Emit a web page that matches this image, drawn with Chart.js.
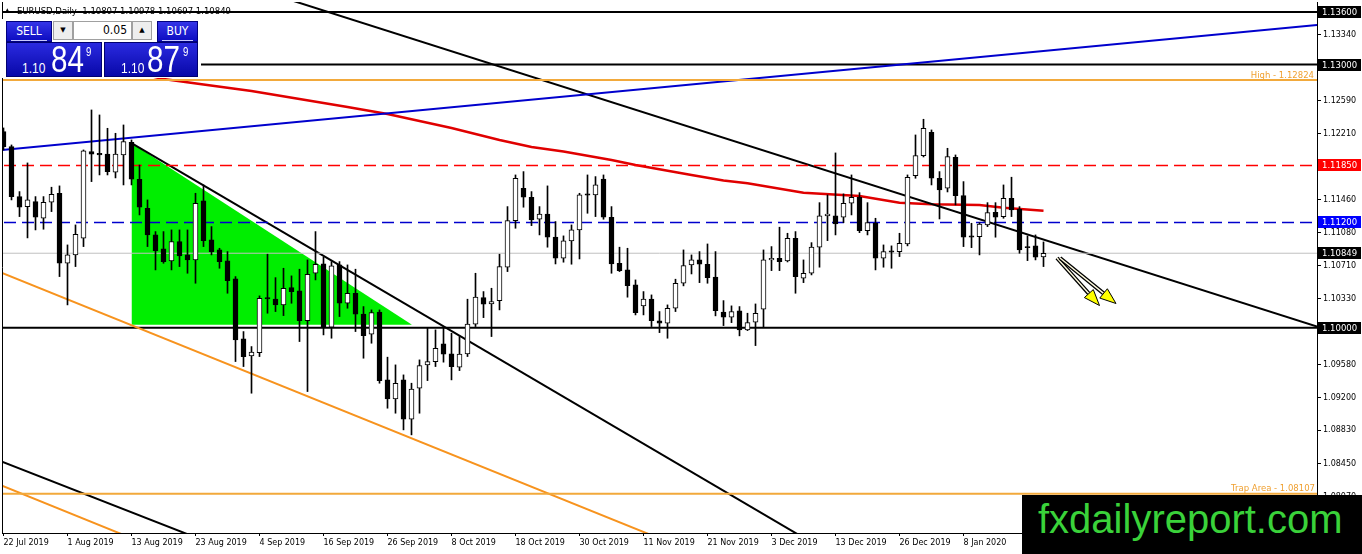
<!DOCTYPE html>
<html>
<head>
<meta charset="utf-8">
<title>EURUSD Daily</title>
<script src="https://cdn.jsdelivr.net/npm/chart.js@4.4.1/dist/chart.umd.min.js"></script>
<style>
html, body { margin: 0; padding: 0; background: #fff; }
#wrap { position: relative; width: 1362px; height: 554px; overflow: hidden; }
#chart { position: absolute; left: 0; top: 0; }
#trade { position: absolute; left: 0; top: 19px; width: 201px; height: 59px; background: #fff; }
#trade div { position: absolute; box-sizing: border-box; }
.btn { top: 2px; height: 21px; color: #fff; font: 12px "DejaVu Sans Condensed", "DejaVu Sans"; text-align: center; line-height: 19px;
       background: linear-gradient(#3434e8, #0c0cc0); border: 1px solid #000080; }
.btn:after { content: ""; position: absolute; left: 4px; right: 4px; bottom: 0; height: 1px; background: #c8c8ff; }
.spin { top: 2px; height: 19px; width: 20px; background: #eeeeee; border: 1px solid #a0a0a0; font: 7px "DejaVu Sans"; text-align: center; line-height: 17px; color: #000; }
.lot { top: 2px; height: 19px; background: #fff; border: 1px solid #a0a0a0; font: 12px "DejaVu Sans Condensed", "DejaVu Sans"; text-align: right; padding-right: 4px; line-height: 17px; }
.quote { top: 23px; height: 35px; background: linear-gradient(#2a2ae0, #0808a8); border: 1px solid #000070; color: #fff; font-family: "Liberation Sans", Arial, sans-serif; }
.quote span { position: absolute; line-height: 1; transform-origin: 0 0; transform: scaleX(0.8); white-space: nowrap; }
#brand { position: absolute; left: 1022px; top: 495px; width: 340px; height: 59px; background: #000; }
#brand span { position: absolute; left: 16px; top: 4px; font: 40px "Liberation Sans", Arial, sans-serif; line-height: 1; color: #3ad23a; white-space: nowrap; }
</style>
</head>
<body>
<div id="wrap">
  <canvas id="chart" width="1362" height="554"></canvas>
  <div id="trade">
    <div class="btn" style="left:6px;width:46px;">SELL</div>
    <div class="spin" style="left:53px;">&#9660;</div>
    <div class="lot" style="left:73px;width:59px;">0.05</div>
    <div class="spin" style="left:132px;">&#9650;</div>
    <div class="btn" style="left:157px;width:41px;">BUY</div>
    <div class="quote" style="left:6px;width:96px;">
      <span style="left:15px;top:17px;font-size:15px;">1.10</span>
      <span style="left:44px;top:-2px;font-size:37px;">84</span>
      <span style="left:79px;top:3px;font-size:12px;">9</span>
    </div>
    <div class="quote" style="left:104px;width:94px;">
      <span style="left:16px;top:17px;font-size:15px;">1.10</span>
      <span style="left:42px;top:-2px;font-size:37px;">87</span>
      <span style="left:78px;top:3px;font-size:12px;">9</span>
    </div>
  </div>
  <div id="brand"><span>fxdailyreport.com</span></div>
</div>
<script>
// bottom axis, one label every 8 bars
const dateLabels = ['22 Jul 2019', '1 Aug 2019', '13 Aug 2019', '23 Aug 2019', '4 Sep 2019', '16 Sep 2019',
  '26 Sep 2019', '8 Oct 2019', '18 Oct 2019', '30 Oct 2019', '11 Nov 2019', '21 Nov 2019',
  '3 Dec 2019', '13 Dec 2019', '26 Dec 2019', '8 Jan 2020']
const barsPerLabel = 8

// right axis tick values
const priceTicks = [1.13340, 1.12960, 1.12590, 1.12210, 1.11840, 1.11460, 1.11080, 1.10710,
  1.10330, 1.09950, 1.09580, 1.09200, 1.08830, 1.08450, 1.08070]

// daily candles (bar 0 = 22 Jul 2019)
const opens = [1.12236, 1.12065, 1.11495, 1.11381, 1.11438, 1.11248, 1.11431, 1.11533, 1.10735, 1.10830,
  1.11020, 1.12008, 1.11989, 1.11981, 1.11773, 1.11970, 1.12115, 1.11693, 1.11362, 1.11058,
  1.10898, 1.10762, 1.10982, 1.10830, 1.10773, 1.11446, 1.11001, 1.10887, 1.10762, 1.10556,
  1.09872, 1.09679, 1.09716, 1.10343, 1.10325, 1.10260, 1.10457, 1.10420, 1.10081, 1.10621,
  1.10727, 1.10006, 1.10716, 1.10279, 1.10393, 1.10154, 1.09926, 1.10177, 1.09405, 1.09188,
  1.09405, 1.08957, 1.09310, 1.09576, 1.09614, 1.09815, 1.09701, 1.09550, 1.09701, 1.10040,
  1.10343, 1.10271, 1.10309, 1.10690, 1.11221, 1.11590, 1.11488, 1.11237, 1.11297, 1.11032,
  1.10792, 1.10990, 1.11115, 1.11526, 1.11514, 1.11696, 1.11260, 1.10735, 1.10659, 1.10488,
  1.10249, 1.10325, 1.10078, 1.10051, 1.10222, 1.10507, 1.10716, 1.10773, 1.10724, 1.10576,
  1.10177, 1.10120, 1.10192, 1.09975, 1.10063, 1.10211, 1.10773, 1.10792, 1.10762, 1.11020,
  1.10564, 1.10621, 1.10918, 1.11275, 1.11275, 1.11260, 1.11419, 1.11488, 1.11107, 1.11191,
  1.10792, 1.10876, 1.10868, 1.10955, 1.11734, 1.11962, 1.12229, 1.11704, 1.11590, 1.11944,
  1.11506, 1.11047, 1.11039, 1.11172, 1.11317, 1.11267, 1.11476, 1.11351, 1.10925, 1.10933,
  1.10807]
const highs = [1.12278, 1.12084, 1.11552, 1.11879, 1.11495, 1.11495, 1.11602, 1.11617, 1.10944, 1.11172,
  1.12027, 1.12483, 1.12426, 1.12274, 1.12217, 1.12312, 1.12141, 1.11856, 1.11457, 1.11096,
  1.11096, 1.11115, 1.11115, 1.11115, 1.11533, 1.11628, 1.11153, 1.10906, 1.10868, 1.10583,
  1.09956, 1.09785, 1.10363, 1.10838, 1.10571, 1.10678, 1.10591, 1.10667, 1.10773, 1.11096,
  1.10804, 1.10754, 1.10754, 1.10716, 1.10667, 1.10241, 1.10203, 1.10203, 1.09664, 1.09576,
  1.09462, 1.09367, 1.09633, 1.09994, 1.09975, 1.09994, 1.09937, 1.09899, 1.10325, 1.10621,
  1.10412, 1.10450, 1.10838, 1.11381, 1.11742, 1.11780, 1.11552, 1.11381, 1.11617, 1.11210,
  1.11047, 1.11172, 1.11533, 1.11742, 1.11723, 1.11742, 1.11381, 1.10918, 1.10906, 1.10545,
  1.10412, 1.10374, 1.10184, 1.10260, 1.10553, 1.10887, 1.10830, 1.10868, 1.10955, 1.10868,
  1.10309, 1.10249, 1.10241, 1.10165, 1.10271, 1.10887, 1.10925, 1.11146, 1.11077, 1.11096,
  1.10773, 1.10970, 1.11426, 1.11514, 1.11993, 1.11526, 1.11742, 1.11540, 1.11426, 1.11248,
  1.10944, 1.10933, 1.11077, 1.11742, 1.12198, 1.12377, 1.12255, 1.11780, 1.12046, 1.11970,
  1.11666, 1.11191, 1.11198, 1.11426, 1.11426, 1.11628, 1.11716, 1.11381, 1.11047, 1.11058,
  1.10978]
const lows = [1.12027, 1.11457, 1.11267, 1.11024, 1.11115, 1.11123, 1.11324, 1.10583, 1.10260, 1.10697,
  1.10925, 1.11666, 1.11742, 1.11742, 1.11708, 1.11628, 1.11628, 1.11286, 1.10925, 1.10659,
  1.10735, 1.10659, 1.10697, 1.10621, 1.10507, 1.10925, 1.10830, 1.10678, 1.10393, 1.09614,
  1.09557, 1.09253, 1.09671, 1.10165, 1.10184, 1.10138, 1.10279, 1.09842, 1.09272, 1.10545,
  1.09918, 1.09880, 1.10127, 1.10222, 1.09956, 1.09652, 1.09823, 1.09367, 1.09082, 1.09025,
  1.08835, 1.08778, 1.09025, 1.09397, 1.09557, 1.09607, 1.09405, 1.09511, 1.09671, 1.10013,
  1.10115, 1.09899, 1.10203, 1.10640, 1.11134, 1.11374, 1.11164, 1.11058, 1.10918, 1.10727,
  1.10747, 1.10724, 1.10784, 1.11305, 1.11267, 1.11237, 1.10621, 1.10640, 1.10348, 1.10146,
  1.10146, 1.10013, 1.09944, 1.09880, 1.10184, 1.10477, 1.10613, 1.10514, 1.10507, 1.10135,
  1.10024, 1.10058, 1.09907, 1.09967, 1.09796, 1.10006, 1.10651, 1.10651, 1.10750, 1.10393,
  1.10514, 1.10602, 1.10690, 1.10993, 1.11058, 1.11198, 1.11286, 1.11084, 1.11058, 1.10659,
  1.10690, 1.10678, 1.10811, 1.10933, 1.11704, 1.11947, 1.11628, 1.11240, 1.11548, 1.11400,
  1.10925, 1.10913, 1.10830, 1.11153, 1.11032, 1.11248, 1.11267, 1.10849, 1.10765, 1.10773,
  1.10697]
const closes = [1.12065, 1.11495, 1.11374, 1.11457, 1.11260, 1.11431, 1.11522, 1.10735, 1.10830, 1.11066,
  1.12016, 1.11978, 1.11970, 1.11780, 1.11981, 1.12122, 1.11693, 1.11374, 1.11058, 1.10879,
  1.10754, 1.10982, 1.10819, 1.10773, 1.11419, 1.10993, 1.10868, 1.10754, 1.10537, 1.09861,
  1.09671, 1.09721, 1.10336, 1.10328, 1.10260, 1.10450, 1.10412, 1.10081, 1.10610, 1.10724,
  1.10006, 1.10705, 1.10279, 1.10393, 1.10154, 1.09910, 1.10172, 1.09397, 1.09188, 1.09367,
  1.08957, 1.09299, 1.09568, 1.09614, 1.09766, 1.09698, 1.09557, 1.09698, 1.10040, 1.10348,
  1.10268, 1.10298, 1.10697, 1.11221, 1.11704, 1.11488, 1.11229, 1.11297, 1.11032, 1.10792,
  1.10990, 1.11115, 1.11514, 1.11511, 1.11628, 1.11260, 1.10727, 1.10651, 1.10480, 1.10172,
  1.10325, 1.10081, 1.10051, 1.10222, 1.10507, 1.10708, 1.10773, 1.10724, 1.10571, 1.10195,
  1.10120, 1.10184, 1.09975, 1.10058, 1.10165, 1.10773, 1.10792, 1.10754, 1.11020, 1.10583,
  1.10621, 1.10918, 1.11275, 1.11297, 1.11183, 1.11419, 1.11488, 1.11107, 1.11198, 1.10792,
  1.10868, 1.10861, 1.10963, 1.11716, 1.11962, 1.12274, 1.11704, 1.11571, 1.11951, 1.11506,
  1.11032, 1.11032, 1.11183, 1.11312, 1.11260, 1.11476, 1.11343, 1.10887, 1.10913, 1.10804,
  1.10849]

// red moving average, read at these bars
const maBars = [0, 20, 25, 31, 37, 43, 48, 56, 62, 66, 70, 76, 79, 86, 90, 93, 100, 107, 112, 116, 122, 125, 130]
const maValues = [1.13250, 1.12836, 1.12773, 1.12699, 1.12608, 1.12517, 1.12437, 1.12277, 1.12140, 1.12061,
  1.12009, 1.11912, 1.11855, 1.11741, 1.11679, 1.11647, 1.11539, 1.11502, 1.11425, 1.11407,
  1.11399, 1.11368, 1.11334]

// horizontal levels
const solidLevels = [1.13600, 1.13000, 1.10000]
const highLevel = 1.12824
const trapLevel = 1.08107
const redLevel = 1.11850
const blueLevel = 1.11200
const bidLevel = 1.10849
const tagLevels = [1.13600, 1.13000, 1.11850, 1.11200, 1.10849, 1.10000]

// drawn objects, [bar, price] end points
const blueTrend = [[-0.19, 1.12025], [164.19, 1.13452]]
const blackTrendLong = [[30, 1.13907], [164.19, 1.10014]]
const blackTrendMid = [[16, 1.12106], [100.5, 1.07579]]
const blackTrendLow = [[-0.19, 1.08471], [24.56, 1.07590]]
const orangeChannel = [[-0.19, 1.10626], [82.06, 1.07595]]
const orangeChannelLow = [[-0.19, 1.08200], [17.06, 1.07561]]
const greenTriangle = [[16, 1.12106], [51.06, 1.10035]]
const greenBase = 1.10035
const arrows = [[131.69, 1.10795, 137.0, 1.10253], [132.06, 1.10795, 139.06, 1.10276]]

const X_MIN = -0.1875
const X_MAX = 164.1875
const Y_MIN = 1.07659
const Y_MAX = 1.13714

const AXIS_FONT = { family: 'DejaVu Sans', size: 8 }

function seg(points) {
    return points.map((p) => ({ x: p[0], y: p[1] }))
}
function hline(v) {
    return [{ x: X_MIN - 2, y: v }, { x: X_MAX + 2, y: v }]
}
function lineSet(data, color, width, extra) {
    return Object.assign({
        type: 'line', data: data, borderColor: color, borderWidth: width,
        pointRadius: 0, fill: false, tension: 0, order: 10
    }, extra || {})
}

const bars = opens.map((_, i) => i)
const wickData = bars.map((i) => ({ x: i, y: [lows[i], highs[i]] }))
const bodyData = bars.map((i) => ({ x: i, y: [Math.min(opens[i], closes[i]), Math.max(opens[i], closes[i])] }))
const bodyColors = bars.map((i) => closes[i] >= opens[i] ? '#ffffff' : '#000000')

const datasets = [
    lineSet(seg(greenTriangle), 'rgba(0,0,0,0)', 0, { fill: { value: greenBase }, backgroundColor: '#00ee00', order: 30 }),
    lineSet(hline(bidLevel), '#c0c0c0', 1),
    lineSet(hline(redLevel), '#ff0000', 1.5, { borderDash: [12, 6] }),
    lineSet(hline(blueLevel), '#0000cd', 1.5, { borderDash: [12, 6] }),
    lineSet(hline(highLevel), '#f2a93b', 2),
    lineSet(hline(trapLevel), '#f2a93b', 2),
    lineSet(seg(orangeChannel), '#f7931e', 2),
    lineSet(seg(orangeChannelLow), '#f7931e', 2),
    lineSet(seg(blueTrend), '#0000cd', 2),
    lineSet(seg(blackTrendLong), '#000000', 2),
    lineSet(seg(blackTrendMid), '#000000', 2),
    lineSet(seg(blackTrendLow), '#000000', 2),
    lineSet(maBars.map((b, i) => ({ x: b, y: maValues[i] })), '#e00000', 2.5)
]
solidLevels.forEach((v) => datasets.push(lineSet(hline(v), '#000000', 2)))
datasets.push({
    type: 'bar', data: wickData, backgroundColor: '#000000', barThickness: 1,
    grouped: false, order: 1
})
datasets.push({
    type: 'bar', data: bodyData, backgroundColor: bodyColors, borderColor: '#000000', borderWidth: 1,
    borderSkipped: false, barThickness: 5, minBarLength: 1, grouped: false, order: 0
})

function drawArrow(ctx, x1, y1, x2, y2) {
    const ang = Math.atan2(y2 - y1, x2 - x1)
    const headLen = 16, headW = 6
    const bx = x2 - headLen * Math.cos(ang), by = y2 - headLen * Math.sin(ang)
    ctx.lineCap = 'butt'
    ctx.beginPath(); ctx.moveTo(x1, y1); ctx.lineTo(bx, by)
    ctx.strokeStyle = '#000'; ctx.lineWidth = 4; ctx.stroke()
    ctx.beginPath(); ctx.moveTo(x1, y1); ctx.lineTo(bx, by)
    ctx.strokeStyle = '#fffbe0'; ctx.lineWidth = 1.4; ctx.stroke()
    ctx.beginPath()
    ctx.moveTo(x2, y2)
    ctx.lineTo(bx + headW * Math.sin(ang), by - headW * Math.cos(ang))
    ctx.lineTo(bx - headW * Math.sin(ang), by + headW * Math.cos(ang))
    ctx.closePath()
    ctx.fillStyle = '#ffff00'; ctx.fill()
    ctx.strokeStyle = '#000'; ctx.lineWidth = 1; ctx.stroke()
}

const decorations = {
    id: 'decorations',
    beforeDatasetsDraw(chart) {
        const ctx = chart.ctx
        ctx.save()
        ctx.fillStyle = '#000'
        ctx.font = '6px "DejaVu Sans"'
        ctx.fillText('\u25B2', 5, 12)
        ctx.font = '8.5px "DejaVu Sans"'
        ctx.fillText('EURUSD,Daily  ' + [opens[130], highs[130], lows[130], closes[130]].map((v) => v.toFixed(5)).join(' '), 17, 14)
        ctx.restore()
    },
    afterDatasetsDraw(chart) {
        const { ctx, chartArea: a, scales: { x, y } } = chart
        ctx.save()
        // level captions
        ctx.font = '8.5px "DejaVu Sans"'
        ctx.fillStyle = '#f0a030'
        ctx.textAlign = 'right'
        ctx.fillText('High - ' + highLevel.toFixed(5), a.right - 3, y.getPixelForValue(highLevel) - 2)
        ctx.fillText('Trap Area - ' + trapLevel.toFixed(5), a.right - 2, y.getPixelForValue(trapLevel) - 3)
        // arrows
        arrows.forEach((ar) => {
            drawArrow(ctx, x.getPixelForValue(ar[0]), y.getPixelForValue(ar[1]),
                x.getPixelForValue(ar[2]), y.getPixelForValue(ar[3]))
        })
        // left frame
        ctx.strokeStyle = '#000'
        ctx.lineWidth = 1
        ctx.beginPath()
        ctx.moveTo(a.left + 0.5, a.top)
        ctx.lineTo(a.left + 0.5, a.bottom)
        ctx.stroke()
        ctx.restore()
    },
    afterDraw(chart) {
        const { ctx, chartArea: a, scales: { y } } = chart
        const tagColors = { '1.11850': '#ff0000', '1.11200': '#0000ff' }
        ctx.save()
        ctx.font = '8.5px "DejaVu Sans"'
        ctx.textBaseline = 'middle'
        tagLevels.forEach((v) => {
            const py = Math.round(y.getPixelForValue(v))
            ctx.fillStyle = tagColors[v.toFixed(5)] || '#000'
            ctx.fillRect(a.right + 1, py - 6, 43, 12)
            ctx.fillStyle = '#fff'
            ctx.fillText(v.toFixed(5), a.right + 5, py + 0.5)
        })
        ctx.restore()
    }
}

new Chart(document.getElementById('chart'), {
    type: 'bar',
    data: { datasets: datasets },
    options: {
        responsive: false,
        animation: false,
        events: [],
        layout: { padding: { left: 2, top: 2, right: 0, bottom: 0 } },
        plugins: { legend: { display: false }, tooltip: { enabled: false } },
        scales: {
            x: {
                type: 'linear', position: 'bottom', min: X_MIN, max: X_MAX, offset: false,
                grid: { offset: false, drawOnChartArea: false, drawTicks: true, tickLength: 3, tickColor: '#000' },
                border: { display: true, color: '#000', width: 1 },
                afterBuildTicks: (scale) => { scale.ticks = dateLabels.map((_, i) => ({ value: i * barsPerLabel })) },
                afterFit: (scale) => {
                    scale.height = 21
                    scale.paddingLeft = 0; scale.paddingRight = 0
                },
                ticks: {
                    align: 'start', maxRotation: 0, autoSkip: false, padding: 2, color: '#000', font: AXIS_FONT,
                    callback: (v) => dateLabels[Math.round(v / barsPerLabel)] || ''
                }
            },
            y: {
                type: 'linear', position: 'right', min: Y_MIN, max: Y_MAX, beginAtZero: false,
                grid: { drawOnChartArea: false, drawTicks: true, tickLength: 4, tickColor: '#000' },
                border: { display: true, color: '#000', width: 1 },
                afterBuildTicks: (scale) => { scale.ticks = priceTicks.map((v) => ({ value: v })) },
                afterFit: (scale) => {
                    scale.width = 45
                    scale.paddingTop = 0; scale.paddingBottom = 0
                },
                ticks: { padding: 2, color: '#000', font: AXIS_FONT, callback: (v) => v.toFixed(5) }
            }
        }
    },
    plugins: [decorations]
})
</script>
</body>
</html>
